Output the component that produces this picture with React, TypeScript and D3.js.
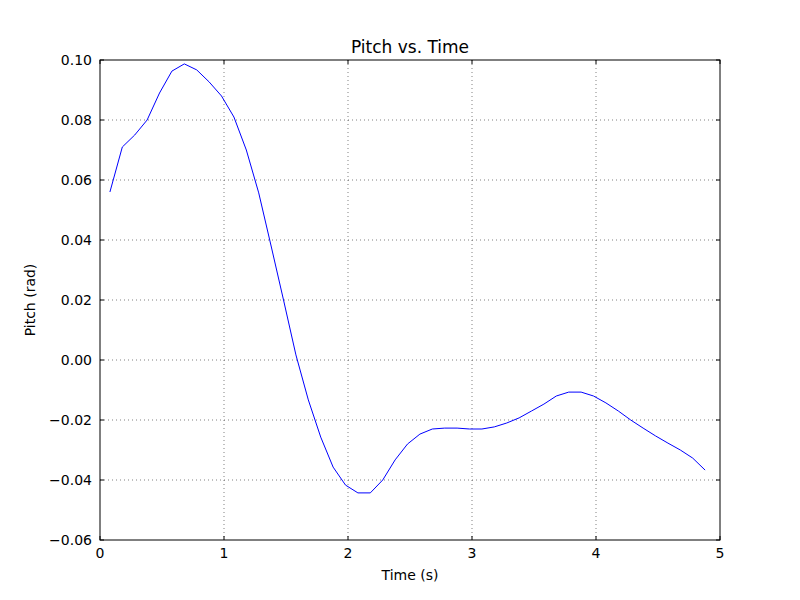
import React, { useEffect, useRef } from 'react';
import * as d3 from 'd3';

const times = [0.08, 0.18, 0.28, 0.38, 0.48, 0.58, 0.68, 0.78, 0.88, 0.98, 1.08, 1.18, 1.28, 1.38, 1.48, 1.58, 1.68, 1.78, 1.88, 1.98, 2.08, 2.18, 2.28, 2.38, 2.48, 2.58, 2.68, 2.78, 2.88, 2.98, 3.08, 3.18, 3.28, 3.38, 3.48, 3.58, 3.68, 3.78, 3.88, 3.98, 4.08, 4.18, 4.28, 4.38, 4.48, 4.58, 4.68, 4.78, 4.88];
const pitch = [0.056, 0.071, 0.075, 0.080, 0.089, 0.0963, 0.0987, 0.0967, 0.0927, 0.088, 0.081, 0.070, 0.0557, 0.038, 0.020, 0.0017, -0.0133, -0.0257, -0.0357, -0.0417, -0.0443, -0.0443, -0.040, -0.0333, -0.028, -0.0247, -0.023, -0.0227, -0.0227, -0.023, -0.023, -0.0223, -0.021, -0.0193, -0.017, -0.0147, -0.012, -0.0107, -0.0107, -0.012, -0.0143, -0.017, -0.020, -0.0227, -0.0253, -0.0277, -0.030, -0.0327, -0.0367];
const xTicks = [0, 1, 2, 3, 4, 5];
const yTicks = [-0.06, -0.04, -0.02, 0.0, 0.02, 0.04, 0.06, 0.08, 0.1];

const App: React.FC = () => {
  const ref = useRef<SVGSVGElement>(null);

  useEffect(() => {
    if (!ref.current) return;
    const svg = d3.select(ref.current);
    svg.selectAll('*').remove();
    const m = { left: 100, right: 80, top: 60, bottom: 60 };
    const W = 800, H = 600;
    const x = d3.scaleLinear().domain([0, 5]).range([m.left, W - m.right]);
    const y = d3.scaleLinear().domain([-0.06, 0.1]).range([H - m.bottom, m.top]);
    const font = 'DejaVu Sans, sans-serif';

    svg.append('rect').attr('width', W).attr('height', H).attr('fill', '#fff');

    // grid
    const grid = svg.append('g').attr('stroke', '#000').attr('stroke-width', 0.5).attr('stroke-dasharray', '1,3');
    xTicks.slice(1, -1).forEach(t => grid.append('line').attr('x1', x(t)).attr('x2', x(t)).attr('y1', m.top).attr('y2', H - m.bottom));
    yTicks.slice(1, -1).forEach(t => grid.append('line').attr('x1', m.left).attr('x2', W - m.right).attr('y1', y(t)).attr('y2', y(t)));

    const line = d3.line<number>().x((_, i) => x(times[i])).y(d => y(d));
    svg.append('path').datum(pitch).attr('fill', 'none').attr('stroke', '#0000ff').attr('stroke-width', 1).attr('d', line);

    // frame and inward ticks
    svg.append('rect').attr('x', m.left).attr('y', m.top).attr('width', W - m.left - m.right).attr('height', H - m.top - m.bottom)
      .attr('fill', 'none').attr('stroke', '#000');
    const ticks = svg.append('g').attr('stroke', '#000');
    xTicks.forEach(t => {
      ticks.append('line').attr('x1', x(t)).attr('x2', x(t)).attr('y1', H - m.bottom).attr('y2', H - m.bottom - 4);
      ticks.append('line').attr('x1', x(t)).attr('x2', x(t)).attr('y1', m.top).attr('y2', m.top + 4);
      svg.append('text').attr('x', x(t)).attr('y', H - m.bottom + 18).attr('text-anchor', 'middle')
        .attr('font-family', font).attr('font-size', 14).text(String(t));
    });
    yTicks.forEach(t => {
      ticks.append('line').attr('x1', m.left).attr('x2', m.left + 4).attr('y1', y(t)).attr('y2', y(t));
      ticks.append('line').attr('x1', W - m.right).attr('x2', W - m.right - 4).attr('y1', y(t)).attr('y2', y(t));
      svg.append('text').attr('x', m.left - 8).attr('y', y(t)).attr('dy', '0.35em').attr('text-anchor', 'end')
        .attr('font-family', font).attr('font-size', 14).text(d3.format('.2f')(t).replace('-', '\u2212'));
    });

    svg.append('text').attr('x', (m.left + W - m.right) / 2).attr('y', 53).attr('text-anchor', 'middle')
      .attr('font-family', font).attr('font-size', 17).text('Pitch vs. Time');
    svg.append('text').attr('x', (m.left + W - m.right) / 2).attr('y', 580).attr('text-anchor', 'middle')
      .attr('font-family', font).attr('font-size', 14).text('Time (s)');
    svg.append('text').attr('transform', `translate(35,${(m.top + H - m.bottom) / 2}) rotate(-90)`).attr('text-anchor', 'middle')
      .attr('font-family', font).attr('font-size', 14).text('Pitch (rad)');
  }, []);

  return <svg ref={ref} width={800} height={600} style={{ display: 'block', margin: -8 }} />;
};

export default App;
